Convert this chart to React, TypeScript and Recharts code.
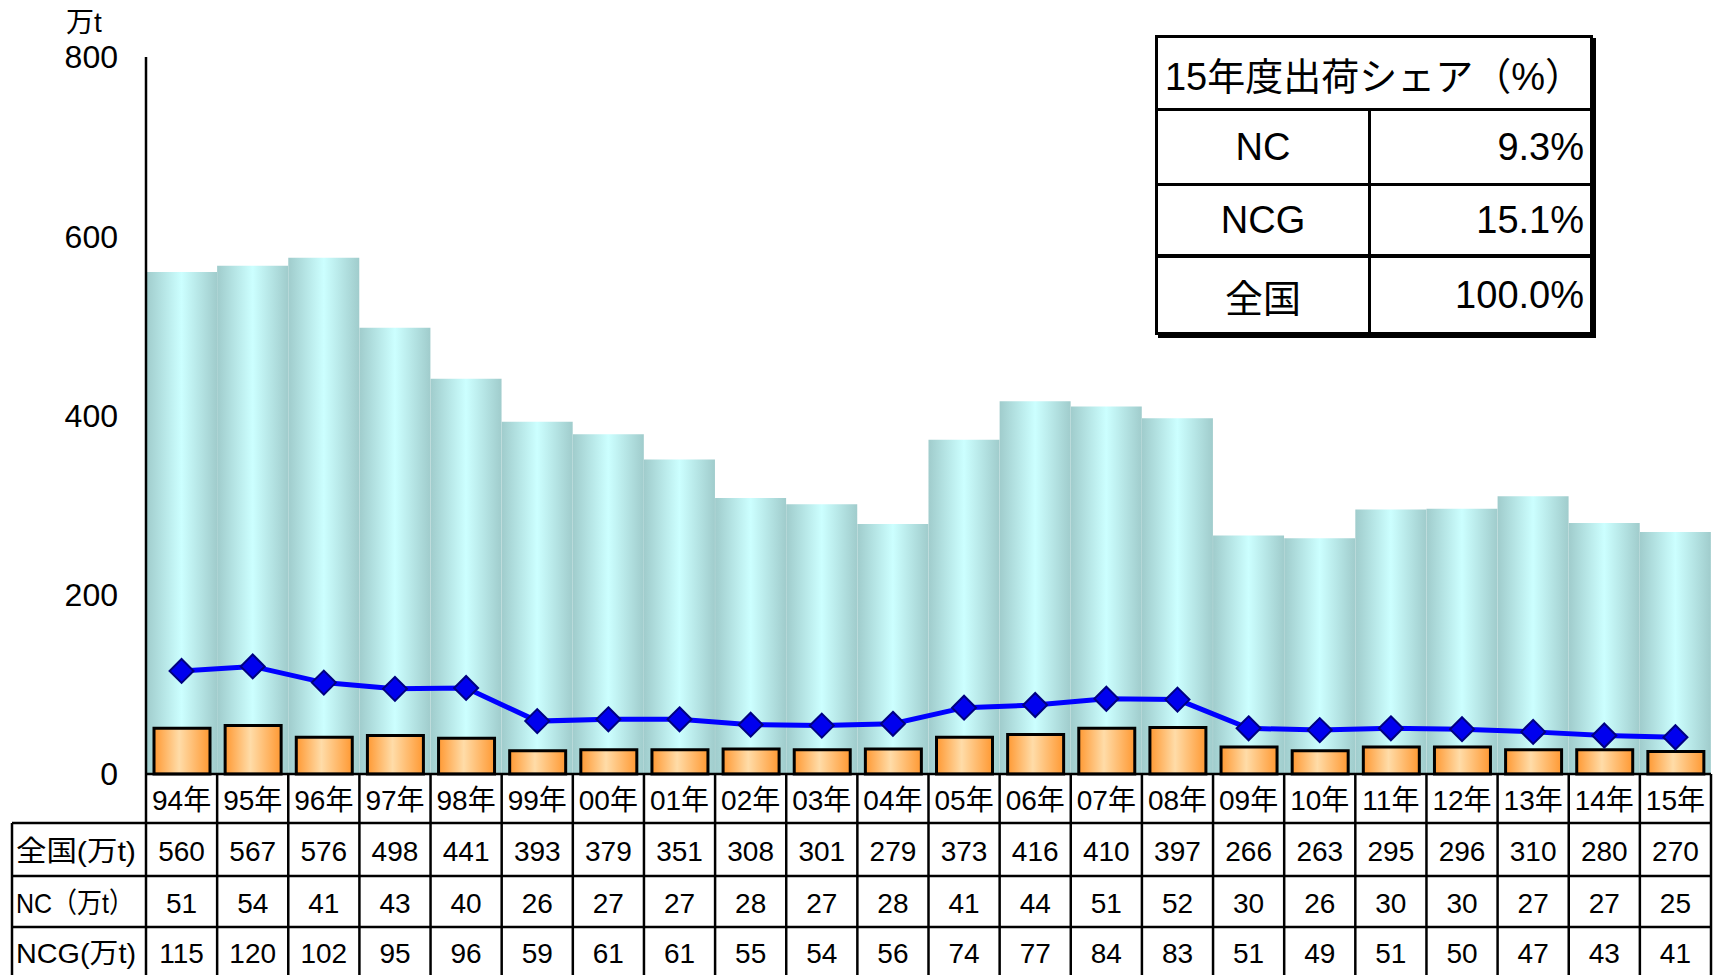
import { ComposedChart, Bar, Line, XAxis, YAxis } from "recharts";

const YEARS = ["94年", "95年", "96年", "97年", "98年", "99年", "00年", "01年", "02年", "03年", "04年", "05年", "06年", "07年", "08年", "09年", "10年", "11年", "12年", "13年", "14年", "15年"];
const ZENKOKU = [560, 567, 576, 498, 441, 393, 379, 351, 308, 301, 279, 373, 416, 410, 397, 266, 263, 295, 296, 310, 280, 270];
const NC = [51, 54, 41, 43, 40, 26, 27, 27, 28, 27, 28, 41, 44, 51, 52, 30, 26, 30, 30, 27, 27, 25];
const NCG = [115, 120, 102, 95, 96, 59, 61, 61, 55, 54, 56, 74, 77, 84, 83, 51, 49, 51, 50, 47, 43, 41];
const Y_TICKS = [0, 200, 400, 600, 800];
const ROW_LABELS = ["全国(万t)", "NC（万t）", "NCG(万t)"];
const SHARE_TITLE = "15年度出荷シェア（%）";
const SHARE_LABELS = ["NC", "NCG", "全国"];
const SHARE_VALUES = ["9.3%", "15.1%", "100.0%"];

const FONT = '"Liberation Sans", "Noto Sans CJK JP", sans-serif';

const data = YEARS.map((year, i) => ({
  year,
  zenkoku: ZENKOKU[i],
  nc: NC[i],
  ncg: NCG[i],
}));

// layout
const W = 1717;
const H = 975;
const PLOT_LEFT = 146;
const PLOT_RIGHT = 1711;
const PLOT_TOP = 57;
const TABLE_H = 201;
const BAND = (PLOT_RIGHT - PLOT_LEFT) / YEARS.length;
const ROW_H = [49, 53, 51, 48];
const LABEL_LEFT = 12;
const LABEL_WIDTHS = [120, 118, 120];

function TableColumn(props: any) {
  const { x, y, payload } = props;
  const i = payload.index ?? props.index;
  const half = BAND / 2;
  const l = x - half;
  const r = x + half;
  const lines = [y];
  ROW_H.forEach((h) => lines.push(lines[lines.length - 1] + h));
  const values = [payload.value, ZENKOKU[i], NC[i], NCG[i]];
  const stroke = { stroke: "#000", strokeWidth: 2.5 };
  return (
    <g>
      {i === 0 && <line x1={l} x2={l} y1={y} y2={H} {...stroke} />}
      <line x1={r} x2={r} y1={y} y2={H} {...stroke} />
      {lines.slice(1, 4).map((ly, k) => (
        <line key={k} x1={l} x2={r} y1={ly} y2={ly} {...stroke} />
      ))}
      {values.map((v, k) => (
        <text
          key={k}
          x={x}
          y={(lines[k] + lines[k + 1]) / 2 + 2}
          textAnchor="middle"
          dominantBaseline="central"
          fontSize={28}
          fontFamily={FONT}
          fill="#000"
        >
          {v}
        </text>
      ))}
      {i === 0 && (
        <g>
          <line x1={LABEL_LEFT} x2={LABEL_LEFT} y1={lines[1]} y2={H} {...stroke} />
          {lines.slice(1, 4).map((ly, k) => (
            <line key={k} x1={LABEL_LEFT} x2={l} y1={ly} y2={ly} {...stroke} />
          ))}
          {ROW_LABELS.map((lab, k) => (
            <text
              key={k}
              x={LABEL_LEFT + 4}
              y={(lines[k + 1] + lines[k + 2]) / 2 + 2}
              dominantBaseline="central"
              fontSize={28}
              fontFamily={FONT}
              textLength={LABEL_WIDTHS[k]}
              lengthAdjust="spacingAndGlyphs"
              fill="#000"
            >
              {lab}
            </text>
          ))}
        </g>
      )}
    </g>
  );
}

function Diamond(props: any) {
  const { cx, cy, index } = props;
  const s = 12;
  return (
    <polygon
      key={`d-${index}`}
      points={`${cx},${cy - s} ${cx + s},${cy} ${cx},${cy + s} ${cx - s},${cy}`}
      fill="#0000EE"
      stroke="#000080"
      strokeWidth={2}
    />
  );
}

function ShareTable() {
  const cell = { display: "flex", alignItems: "center", boxSizing: "border-box" as const };
  const rowHeights = [75, 72, 74];
  return (
    <div
      style={{
        position: "absolute",
        left: 1155,
        top: 35,
        width: 438,
        height: 300,
        boxSizing: "border-box",
        border: "3px solid #000",
        boxShadow: "3px 3px 0 #000",
        background: "#fff",
        fontFamily: FONT,
        color: "#000",
      }}
    >
      <div style={{ ...cell, height: 73, borderBottom: "3px solid #000", justifyContent: "center", fontSize: 38 }}>
        {SHARE_TITLE}
      </div>
      {SHARE_LABELS.map((lab, k) => (
        <div
          key={lab}
          style={{
            display: "flex",
            height: rowHeights[k],
            boxSizing: "border-box",
            borderBottom: k < 2 ? (k === 1 ? "4px solid #000" : "3px solid #000") : "none",
          }}
        >
          <div style={{ ...cell, width: 213, borderRight: "3px solid #000", justifyContent: "center", fontSize: 38 }}>{lab}</div>
          <div style={{ ...cell, flex: 1, justifyContent: "flex-end", paddingRight: 6, fontSize: 38 }}>{SHARE_VALUES[k]}</div>
        </div>
      ))}
    </div>
  );
}

export default function App() {
  return (
    <div style={{ position: "absolute", left: 0, top: 0, width: W, height: H, background: "#fff" }}>
      <ComposedChart
        width={W}
        height={H}
        data={data}
        margin={{ top: PLOT_TOP, right: W - PLOT_RIGHT, bottom: 0, left: 0 }}
        barCategoryGap={0}
        barGap={0}
      >
        <defs>
          <linearGradient id="gradZenkoku" x1="0" y1="0" x2="1" y2="0">
            <stop offset="0%" stopColor="#A0CCCC" />
            <stop offset="50%" stopColor="#CCFFFF" />
            <stop offset="100%" stopColor="#A0CCCC" />
          </linearGradient>
          <linearGradient id="gradNC" x1="0" y1="0" x2="1" y2="0">
            <stop offset="0%" stopColor="#FF9933" />
            <stop offset="45%" stopColor="#FFDCA8" />
            <stop offset="100%" stopColor="#FF9933" />
          </linearGradient>
        </defs>
        <XAxis
          xAxisId="a"
          dataKey="year"
          height={TABLE_H}
          interval={0}
          tickSize={0}
          tickMargin={0}
          tickLine={false}
          axisLine={{ stroke: "#000", strokeWidth: 2.5 }}
          tick={<TableColumn />}
        />
        <XAxis xAxisId="b" dataKey="year" hide />
        <YAxis
          domain={[0, 800]}
          ticks={Y_TICKS}
          width={PLOT_LEFT}
          tickLine={false}
          tickSize={0}
          tickMargin={28}
          axisLine={{ stroke: "#000", strokeWidth: 2.5 }}
          tick={{ fill: "#000", fontSize: 32, fontFamily: FONT }}
        />
        <Bar xAxisId="a" dataKey="zenkoku" fill="url(#gradZenkoku)" isAnimationActive={false} />
        <Bar
          xAxisId="b"
          dataKey="nc"
          barSize={56}
          fill="url(#gradNC)"
          stroke="#000"
          strokeWidth={3}
          isAnimationActive={false}
        />
        <Line
          xAxisId="a"
          dataKey="ncg"
          type="linear"
          stroke="#0000FF"
          strokeWidth={5}
          dot={Diamond}
          activeDot={false}
          isAnimationActive={false}
        />
      </ComposedChart>
      <div style={{ position: "absolute", left: 66, top: 0, fontSize: 28, fontFamily: FONT, color: "#000" }}>万t</div>
      <ShareTable />
    </div>
  );
}
